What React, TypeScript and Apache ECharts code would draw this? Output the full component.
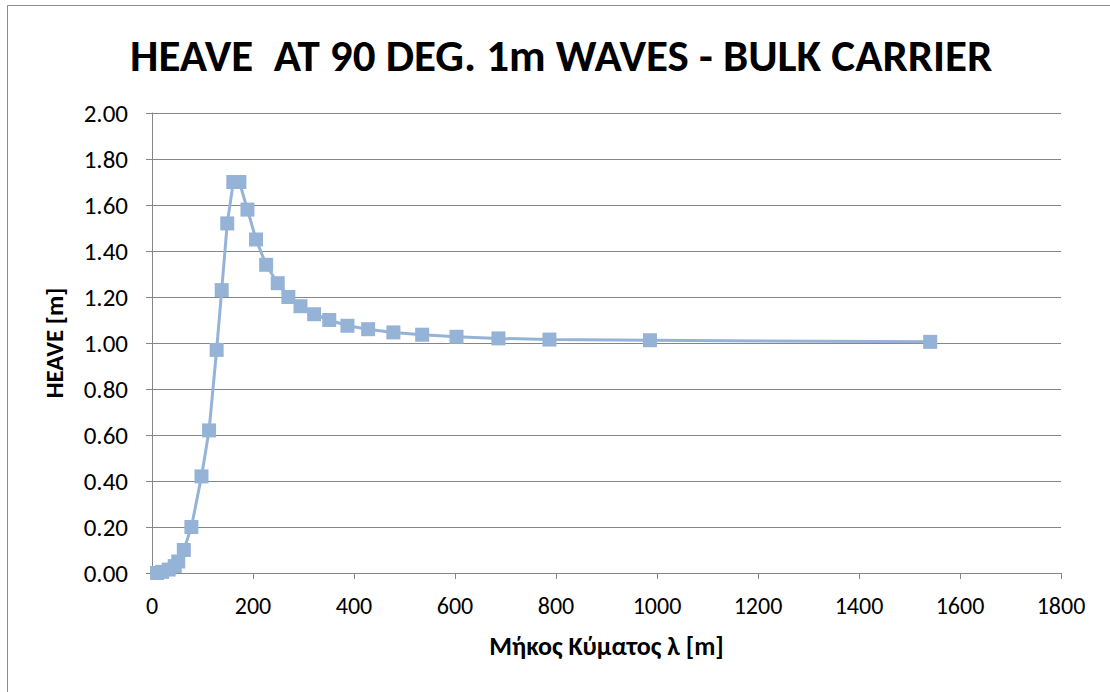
import React, { useEffect, useRef } from "react";
import * as echarts from "echarts";

const titleText = "HEAVE  AT 90 DEG. 1m WAVES - BULK CARRIER";
const xAxisName = "Μήκος Κύματος λ [m]";
const yAxisName = "HEAVE [m]";

const waveLength = [
  10, 20, 33, 45, 52, 63, 78, 98, 113, 128, 138, 149, 161, 173, 189, 206, 226,
  249, 270, 294, 321, 351, 387, 428, 478, 535, 603, 686, 787, 986, 1541,
];
const heave = [
  0.0, 0.005, 0.015, 0.03, 0.05, 0.1, 0.2, 0.42, 0.62, 0.97, 1.23, 1.52, 1.7,
  1.7, 1.58, 1.45, 1.34, 1.26, 1.2, 1.16, 1.125, 1.1, 1.075, 1.06, 1.046,
  1.036, 1.027, 1.02, 1.015, 1.012, 1.005,
];

export default function App() {
  const ref = useRef<HTMLDivElement>(null);
  useEffect(() => {
    document.body.style.margin = "0";
    const chart = echarts.init(ref.current!, null, { renderer: "svg" });
    const font = "Carlito, 'Open Sans', 'Noto Sans', sans-serif";
    chart.setOption({
      animation: false,
      backgroundColor: "#fff",
      title: {
        text: titleText,
        left: 125,
        top: 28,
        textStyle: {
          fontFamily: font,
          fontWeight: "bold",
          fontSize: 45,
          color: "#000",
        },
      },
      graphic: [
        {
          type: "rect",
          shape: { x: 7.5, y: 5.5, width: 1200, height: 800 },
          style: { fill: "none", stroke: "#8c8c8c", lineWidth: 1 },
          silent: true,
        },
      ],
      grid: { left: 152, right: 49, top: 113, bottom: 119 },
      xAxis: {
        type: "value",
        min: 0,
        max: 1800,
        interval: 200,
        name: xAxisName,
        nameLocation: "middle",
        nameGap: 60,
        nameTextStyle: {
          fontFamily: font,
          fontWeight: "bold",
          fontSize: 26,
          color: "#000",
        },
        axisLine: { show: true, lineStyle: { color: "#868686", width: 1 } },
        axisTick: { show: true, length: 6, lineStyle: { color: "#868686" } },
        axisLabel: {
          fontFamily: font,
          fontSize: 24,
          color: "#000",
          margin: 20,
          formatter: (v: number) => String(v),
        },
        splitLine: { show: false },
      },
      yAxis: {
        type: "value",
        min: 0,
        max: 2,
        interval: 0.2,
        name: yAxisName,
        nameLocation: "middle",
        nameGap: 85,
        nameTextStyle: {
          fontFamily: font,
          fontWeight: "bold",
          fontSize: 25,
          color: "#000",
        },
        axisLine: { show: true, lineStyle: { color: "#868686", width: 1 } },
        axisTick: { show: true, length: 6, lineStyle: { color: "#868686" } },
        axisLabel: {
          fontFamily: font,
          fontSize: 25,
          color: "#000",
          margin: 24,
          formatter: (v: number) => v.toFixed(2),
        },
        splitLine: { show: true, lineStyle: { color: "#868686", width: 1 } },
      },
      series: [
        {
          type: "line",
          data: waveLength.map((x, i) => [x, heave[i]]),
          symbol: "rect",
          symbolSize: 14,
          lineStyle: { color: "#95b3d7", width: 3 },
          itemStyle: { color: "#95b3d7" },
        },
      ],
    });
    return () => chart.dispose();
  }, []);
  return <div ref={ref} style={{ width: 1110, height: 692 }} />;
}
